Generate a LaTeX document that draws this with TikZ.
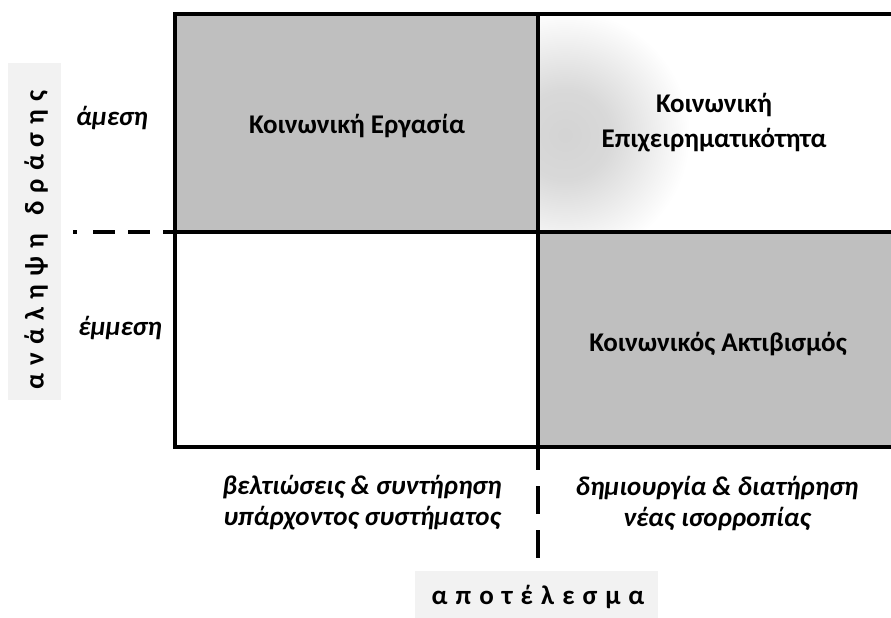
\documentclass[tikz,border=0pt]{standalone}
\usepackage{fontspec}
\setmainfont{Carlito}
\definecolor{cellgray}{HTML}{BFBFBF}
\definecolor{labelbg}{HTML}{F2F2F2}
\pgfdeclareradialshading{blob}{\pgfpoint{0bp}{0bp}}{color(0bp)=(black!17); color(9bp)=(black!15); color(25bp)=(white); color(50bp)=(white)}
\tikzset{
  gridline/.style={line width=4.5pt, line cap=rect},
  celltext/.style={font=\fontsize{27}{35}\selectfont\bfseries, align=center, inner sep=0pt},
  axistext/.style={font=\fontsize{27}{31}\selectfont\bfseries\itshape, align=center, inner sep=0pt},
  axislabel/.style={font=\fontsize{27}{30}\selectfont\bfseries\addfontfeature{LetterSpace=30}, inner sep=0pt},
}
\begin{document}
\begin{tikzpicture}[x=1pt,y=-1pt]
\useasboundingbox (0,0) rectangle (891,618);
% cells
\fill[cellgray] (175,14) rectangle (538,232);
\fill[cellgray] (538,232) rectangle (900,447);
\begin{scope}
  \clip (538,14) rectangle (900,232);
  \shade[shading=blob] (565,135) circle (125);
\end{scope}
% label boxes
\fill[labelbg] (8,63) rectangle (61,400);
\fill[labelbg] (415,571) rectangle (658,618);
% coordinates
\coordinate (gTL) at (175,14);
\coordinate (midTop) at (538,14);
\coordinate (midBot) at (538,447);
\coordinate (midLeft) at (175,232);
\coordinate (midRight) at (900,232);
\coordinate (dashL) at (73,232);
\coordinate (dashB) at (538,571);
% grid
\draw[gridline] (900,14) -- (gTL) -- (175,447) -- (900,447);
\draw[gridline] (midTop) -- (midBot);
\draw[gridline] (midLeft) -- (midRight);
% dashed
\draw[line width=4.5pt, dash pattern=on 4pt off 16pt on 22pt off 13pt on 22pt off 13pt on 22pt off 13pt] (dashL) -- (midLeft);
\draw[line width=4.5pt, dash pattern=on 23pt off 16pt on 28pt off 16pt on 28pt off 14pt] (midBot) -- (dashB);
% texts
\node[celltext] (ergasia) at (357,126) {Κοινωνική Εργασία};
\node[celltext] (epix) at (714,123) {Κοινωνική\\Επιχειρηματικότητα};
\node[celltext] (aktiv) at (718,344) {Κοινωνικός Ακτιβισμός};
\node[axistext] (amesi) at (112,118) {άμεση};
\node[axistext] (emmesi) at (120,328) {έμμεση};
\node[axistext] (veltioseis) at (362,503) {βελτιώσεις \& συντήρηση\\υπάρχοντος συστήματος};
\node[axistext] (dimiourgia) at (717,503) {δημιουργία \& διατήρηση\\νέας ισορροπίας};
\node[axislabel] (apotelesma) at (538,597) {αποτέλεσμα};
\node[axislabel, rotate=90] (analipsi) at (36,240) {ανάληψη\hspace{18pt}δράσης};
\end{tikzpicture}
\end{document}
